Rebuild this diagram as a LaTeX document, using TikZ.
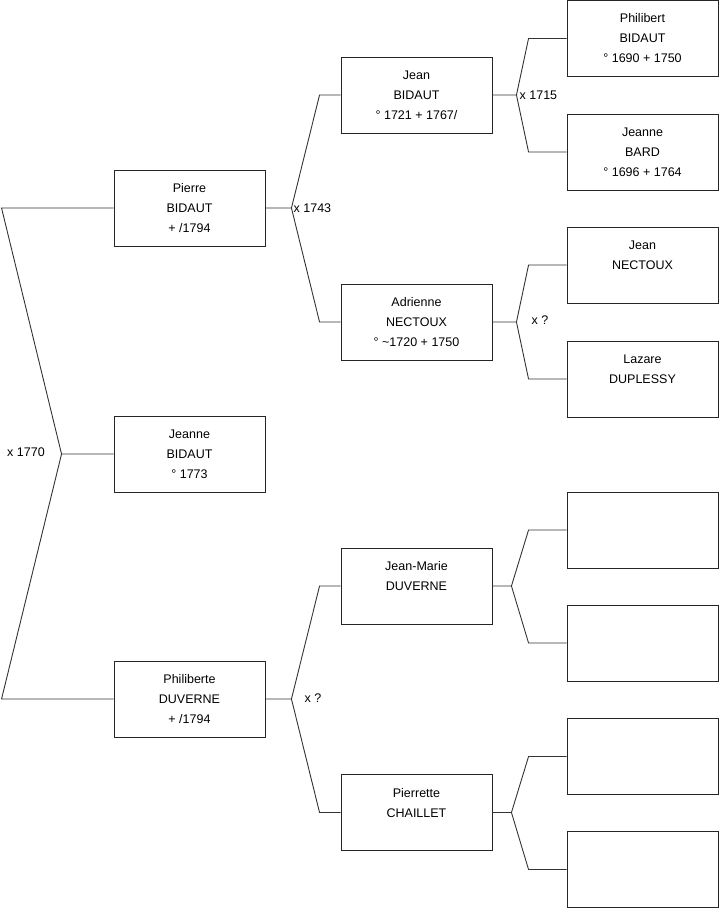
\documentclass[tikz,border=0pt]{standalone}
\usepackage{fontspec}
\setmainfont{Liberation Sans}
\usepackage{tikz}
\usetikzlibrary{positioning,calc}
\tikzset{
  person/.style={draw=black!85,line width=0.9pt,minimum width=151pt,
    minimum height=76pt,inner sep=0pt,align=center,
    font=\fontsize{12.5}{20}\selectfont},
  link/.style={black!80,line width=0.9pt},
  mlbl/.style={font=\fontsize{12.5}{15}\selectfont,inner sep=0pt,anchor=west},
}

\begin{document}
\begin{tikzpicture}[x=1pt,y=-1pt]
  \useasboundingbox (0,0) rectangle (719,908);
  % generation 1
  \node[person] (pierre)     at (189.5,208) {Pierre\\BIDAUT\\+ /1794};
  \node[person] (jeanne)     at (189.5,454) {Jeanne\\BIDAUT\\\textdegree{} 1773};
  \node[person] (philiberte) at (189.5,699) {Philiberte\\DUVERNE\\+ /1794};
  % generation 2
  \node[person] (jean)      at (416.5,95)  {Jean\\BIDAUT\\\textdegree{} 1721 + 1767/};
  \node[person] (adrienne)  at (416.5,322) {Adrienne\\NECTOUX\\\textdegree{} \textasciitilde1720 + 1750};
  \node[person] (jeanmarie) at (416.5,586) {Jean-Marie\\DUVERNE\\\mbox{}};
  \node[person] (pierrette) at (416.5,812.5) {Pierrette\\CHAILLET\\\mbox{}};
  % generation 3
  \node[person] (philibert) at (642.5,38.5) {Philibert\\BIDAUT\\\textdegree{} 1690 + 1750};
  \node[person] (bard)      at (642.5,152)  {Jeanne\\BARD\\\textdegree{} 1696 + 1764};
  \node[person] (jnectoux)  at (642.5,265)  {Jean\\NECTOUX\\\mbox{}};
  \node[person] (lazare)    at (642.5,379)  {Lazare\\DUPLESSY\\\mbox{}};
  \node[person] (emptyA)    at (642.5,530)  {};
  \node[person] (emptyB)    at (642.5,643)  {};
  \node[person] (emptyC)    at (642.5,756.5) {};
  \node[person] (emptyD)    at (642.5,869.5) {};

  \foreach \src/\fk/\up/\dn/\d in {jean/fj/philibert/bard/24,
      adrienne/fa/jnectoux/lazare/24, jeanmarie/fm/emptyA/emptyB/19,
      pierrette/fp/emptyC/emptyD/19} {
    \draw[link] (\src.east) -- ++(\d,0) coordinate (\fk)
      -- ([xshift=-38pt]\up.west) -- (\up.west);
    \draw[link] (\fk) -- ([xshift=-38pt]\dn.west) -- (\dn.west);
  }
  \foreach \src/\fk/\up/\dn in {pierre/fpi/jean/adrienne,
      philiberte/fph/jeanmarie/pierrette} {
    \draw[link] (\src.east) -- ++(26,0) coordinate (\fk)
      -- ([xshift=-21pt]\up.west) -- (\up.west);
    \draw[link] (\fk) -- ([xshift=-21pt]\dn.west) -- (\dn.west);
  }
  \draw[link] (jeanne.west) -- ++(-52,0) coordinate (f0)
    -- ([xshift=-112pt]pierre.west) -- (pierre.west);
  \draw[link] (f0) -- ([xshift=-112pt]philiberte.west) -- (philiberte.west);

  % marriages
  \node[mlbl] (m1770) at (7,452) {x 1770};
  \node[mlbl] (m1743) at ([xshift=2pt]fpi) {x 1743};
  \node[mlbl] (m1715) at ([xshift=3pt]fj) {x 1715};
  \node[mlbl] (mq1)   at ([xshift=15pt,yshift=2pt]fa) {x ?};
  \node[mlbl] (mq2)   at ([xshift=13pt,yshift=1pt]fph) {x ?};
\end{tikzpicture}
\end{document}
